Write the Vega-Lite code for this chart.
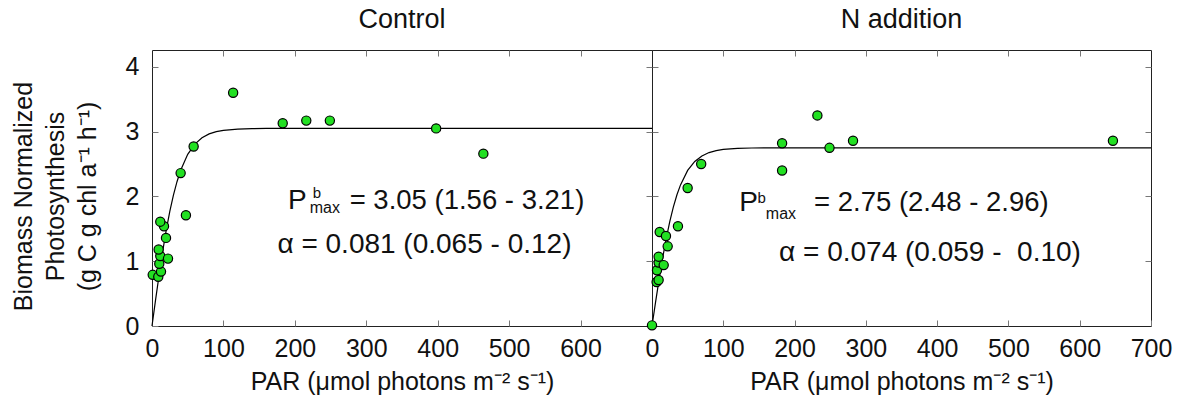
{
  "$schema": "https://vega.github.io/schema/vega-lite/v6.json",
  "autosize": {"type": "pad"},
  "padding": {"left": 10, "top": 5, "right": 0, "bottom": 0},
  "bounds": "flush",
  "spacing": 0,
  "config": {
    "font": "Liberation Sans",
    "view": {"stroke": "#222", "strokeWidth": 1},
    "axis": {"domain": false, "grid": false, "tickSize": -6, "tickColor": "#777", "labelFlush": false, "labelFont": "Liberation Sans", "labelFontSize": 25, "labelColor": "#111", "titleFont": "Liberation Sans", "titleFontSize": 25, "titleFontWeight": "normal", "titleColor": "#111"},
    "title": {"font": "Liberation Sans", "fontSize": 27, "fontWeight": "normal", "color": "#111"},
    "text": {"font": "Liberation Sans", "color": "#111"}
  },
  "datasets": {
    "points": [
      {"panel": "Control", "par": 1, "p": 0.79},
      {"panel": "Control", "par": 8.8, "p": 0.76},
      {"panel": "Control", "par": 12.6, "p": 0.84},
      {"panel": "Control", "par": 10.2, "p": 0.96},
      {"panel": "Control", "par": 11.6, "p": 1.08},
      {"panel": "Control", "par": 9.3, "p": 1.18},
      {"panel": "Control", "par": 22.4, "p": 1.04},
      {"panel": "Control", "par": 19.6, "p": 1.36},
      {"panel": "Control", "par": 16.8, "p": 1.54},
      {"panel": "Control", "par": 11.6, "p": 1.61},
      {"panel": "Control", "par": 47.5, "p": 1.71},
      {"panel": "Control", "par": 40.1, "p": 2.36},
      {"panel": "Control", "par": 58.3, "p": 2.77},
      {"panel": "Control", "par": 113.6, "p": 3.6},
      {"panel": "Control", "par": 183, "p": 3.13},
      {"panel": "Control", "par": 216, "p": 3.17},
      {"panel": "Control", "par": 249, "p": 3.17},
      {"panel": "Control", "par": 397.8, "p": 3.05},
      {"panel": "Control", "par": 463.9, "p": 2.66},
      {"panel": "N addition", "par": 0, "p": 0.01},
      {"panel": "N addition", "par": 6.5, "p": 0.68},
      {"panel": "N addition", "par": 9.3, "p": 0.71},
      {"panel": "N addition", "par": 7, "p": 0.86},
      {"panel": "N addition", "par": 9.3, "p": 0.98},
      {"panel": "N addition", "par": 9.3, "p": 1.07},
      {"panel": "N addition", "par": 16.4, "p": 0.94},
      {"panel": "N addition", "par": 10.8, "p": 1.45},
      {"panel": "N addition", "par": 19.6, "p": 1.39},
      {"panel": "N addition", "par": 22, "p": 1.23},
      {"panel": "N addition", "par": 36.4, "p": 1.54},
      {"panel": "N addition", "par": 50, "p": 2.13},
      {"panel": "N addition", "par": 69, "p": 2.5},
      {"panel": "N addition", "par": 182.5, "p": 2.82},
      {"panel": "N addition", "par": 182.5, "p": 2.4},
      {"panel": "N addition", "par": 232, "p": 3.25},
      {"panel": "N addition", "par": 249, "p": 2.75},
      {"panel": "N addition", "par": 282, "p": 2.86},
      {"panel": "N addition", "par": 646.6, "p": 2.86}
    ],
    "curves": [
      {"panel": "Control", "par": 0, "p": 0},
      {"panel": "Control", "par": 5, "p": 0.403},
      {"panel": "Control", "par": 10, "p": 0.791},
      {"panel": "Control", "par": 15, "p": 1.155},
      {"panel": "Control", "par": 20, "p": 1.483},
      {"panel": "Control", "par": 25, "p": 1.772},
      {"panel": "Control", "par": 30, "p": 2.02},
      {"panel": "Control", "par": 35, "p": 2.227},
      {"panel": "Control", "par": 40, "p": 2.399},
      {"panel": "Control", "par": 50, "p": 2.65},
      {"panel": "Control", "par": 60, "p": 2.808},
      {"panel": "Control", "par": 70, "p": 2.906},
      {"panel": "Control", "par": 80, "p": 2.965},
      {"panel": "Control", "par": 90, "p": 2.999},
      {"panel": "Control", "par": 100, "p": 3.02},
      {"panel": "Control", "par": 120, "p": 3.04},
      {"panel": "Control", "par": 140, "p": 3.046},
      {"panel": "Control", "par": 160, "p": 3.049},
      {"panel": "Control", "par": 200, "p": 3.05},
      {"panel": "Control", "par": 700, "p": 3.05},
      {"panel": "N addition", "par": 0, "p": 0},
      {"panel": "N addition", "par": 5, "p": 0.368},
      {"panel": "N addition", "par": 10, "p": 0.723},
      {"panel": "N addition", "par": 15, "p": 1.054},
      {"panel": "N addition", "par": 20, "p": 1.352},
      {"panel": "N addition", "par": 25, "p": 1.614},
      {"panel": "N addition", "par": 30, "p": 1.838},
      {"panel": "N addition", "par": 35, "p": 2.025},
      {"panel": "N addition", "par": 40, "p": 2.178},
      {"panel": "N addition", "par": 50, "p": 2.401},
      {"panel": "N addition", "par": 60, "p": 2.54},
      {"panel": "N addition", "par": 70, "p": 2.625},
      {"panel": "N addition", "par": 80, "p": 2.677},
      {"panel": "N addition", "par": 90, "p": 2.707},
      {"panel": "N addition", "par": 100, "p": 2.725},
      {"panel": "N addition", "par": 120, "p": 2.741},
      {"panel": "N addition", "par": 140, "p": 2.747},
      {"panel": "N addition", "par": 160, "p": 2.749},
      {"panel": "N addition", "par": 200, "p": 2.75},
      {"panel": "N addition", "par": 700, "p": 2.75}
    ],
    "notes": [
      {"panel": "Control", "part": "P", "label": "P"},
      {"panel": "Control", "part": "b", "label": "b"},
      {"panel": "Control", "part": "max", "label": "max"},
      {"panel": "Control", "part": "eq", "label": "= 3.05 (1.56 - 3.21)"},
      {"panel": "Control", "part": "alpha", "label": "α = 0.081 (0.065 - 0.12)"},
      {"panel": "N addition", "part": "P", "label": "P"},
      {"panel": "N addition", "part": "b", "label": "b"},
      {"panel": "N addition", "part": "max", "label": "max"},
      {"panel": "N addition", "part": "eq", "label": "= 2.75 (2.48 - 2.96)"},
      {"panel": "N addition", "part": "alpha", "label": "α = 0.074 (0.059 - \u00a00.10)"}
    ]
  },
  "hconcat": [
    {
      "width": 500,
      "height": 276,
      "title": {"text": "Control", "offset": 16},
      "resolve": {"axis": {"x": "independent", "y": "independent"}},
      "layer": [
        {
          "data": {"name": "curves"},
          "transform": [{"filter": "datum.panel == 'Control'"}],
          "mark": {"type": "line", "color": "#000", "strokeWidth": 1.2},
          "encoding": {
            "x": {"field": "par", "type": "quantitative", "scale": {"domain": [0, 700], "nice": false},
              "axis": {"orient": "bottom", "values": [0, 100, 200, 300, 400, 500, 600], "labelPadding": 16, "title": "PAR (μmol photons m⁻² s⁻¹)", "titlePadding": 8}},
            "y": {"field": "p", "type": "quantitative", "scale": {"domain": [0, 4.26], "nice": false},
              "axis": {"orient": "left", "values": [0, 1, 2, 3, 4], "labelPadding": 19, "title": ["Biomass Normalized", "Photosynthesis", "(g C g chl a⁻¹ h⁻¹)"], "titlePadding": 25, "titleLineHeight": 32, "titleY": 146}}
          }
        },
        {
          "data": {"name": "points"},
          "transform": [{"filter": "datum.panel == 'Control'"}],
          "mark": {"type": "circle", "fill": "#22e022", "stroke": "#000", "strokeWidth": 1.2, "size": 85, "opacity": 1},
          "encoding": {
            "x": {"field": "par", "type": "quantitative", "axis": null},
            "y": {"field": "p", "type": "quantitative", "axis": null}
          }
        },
        {
          "data": {"name": "points"},
          "transform": [{"filter": "datum.panel == 'Control'"}],
          "mark": {"type": "point", "opacity": 0},
          "encoding": {
            "x": {"field": "par", "type": "quantitative", "axis": {"orient": "top", "labels": false, "title": null, "values": [100, 200, 300, 400, 500, 600]}},
            "y": {"field": "p", "type": "quantitative", "axis": {"orient": "right", "labels": false, "title": null, "values": [1, 2, 3, 4]}}
          }
        },
        {
          "data": {"name": "notes"},
          "transform": [{"filter": "datum.panel == 'Control' && datum.part == 'P'"}],
          "mark": {"type": "text", "align": "left", "baseline": "alphabetic", "fontSize": 28},
          "encoding": {"x": {"datum": 190.4, "type": "quantitative", "axis": null}, "y": {"datum": 1.812, "type": "quantitative", "axis": null}, "text": {"field": "label"}}
        },
        {
          "data": {"name": "notes"},
          "transform": [{"filter": "datum.panel == 'Control' && datum.part == 'b'"}],
          "mark": {"type": "text", "align": "left", "baseline": "alphabetic", "fontSize": 15},
          "encoding": {"x": {"datum": 225, "type": "quantitative", "axis": null}, "y": {"datum": 1.981, "type": "quantitative", "axis": null}, "text": {"field": "label"}}
        },
        {
          "data": {"name": "notes"},
          "transform": [{"filter": "datum.panel == 'Control' && datum.part == 'max'"}],
          "mark": {"type": "text", "align": "left", "baseline": "alphabetic", "fontSize": 16},
          "encoding": {"x": {"datum": 220.8, "type": "quantitative", "axis": null}, "y": {"datum": 1.75, "type": "quantitative", "axis": null}, "text": {"field": "label"}}
        },
        {
          "data": {"name": "notes"},
          "transform": [{"filter": "datum.panel == 'Control' && datum.part == 'eq'"}],
          "mark": {"type": "text", "align": "left", "baseline": "alphabetic", "fontSize": 27.5},
          "encoding": {"x": {"datum": 276.7, "type": "quantitative", "axis": null}, "y": {"datum": 1.812, "type": "quantitative", "axis": null}, "text": {"field": "label"}}
        },
        {
          "data": {"name": "notes"},
          "transform": [{"filter": "datum.panel == 'Control' && datum.part == 'alpha'"}],
          "mark": {"type": "text", "align": "left", "baseline": "alphabetic", "fontSize": 28},
          "encoding": {"x": {"datum": 175.6, "type": "quantitative", "axis": null}, "y": {"datum": 1.133, "type": "quantitative", "axis": null}, "text": {"field": "label"}}
        }
      ]
    },
    {
      "width": 499,
      "height": 276,
      "title": {"text": "N addition", "offset": 16},
      "resolve": {"axis": {"x": "independent", "y": "independent"}},
      "layer": [
        {
          "data": {"name": "curves"},
          "transform": [{"filter": "datum.panel == 'N addition'"}],
          "mark": {"type": "line", "color": "#000", "strokeWidth": 1.2},
          "encoding": {
            "x": {"field": "par", "type": "quantitative", "scale": {"domain": [0, 700], "nice": false},
              "axis": {"orient": "bottom", "values": [0, 100, 200, 300, 400, 500, 600, 700], "labelPadding": 16, "title": "PAR (μmol photons m⁻² s⁻¹)", "titlePadding": 8}},
            "y": {"field": "p", "type": "quantitative", "scale": {"domain": [0, 4.26], "nice": false},
              "axis": {"orient": "left", "values": [1, 2, 3, 4], "labels": false, "title": null}}
          }
        },
        {
          "data": {"name": "points"},
          "transform": [{"filter": "datum.panel == 'N addition'"}],
          "mark": {"type": "circle", "fill": "#22e022", "stroke": "#000", "strokeWidth": 1.2, "size": 85, "opacity": 1},
          "encoding": {
            "x": {"field": "par", "type": "quantitative", "axis": null},
            "y": {"field": "p", "type": "quantitative", "axis": null}
          }
        },
        {
          "data": {"name": "points"},
          "transform": [{"filter": "datum.panel == 'N addition'"}],
          "mark": {"type": "point", "opacity": 0},
          "encoding": {
            "x": {"field": "par", "type": "quantitative", "axis": {"orient": "top", "labels": false, "title": null, "values": [100, 200, 300, 400, 500, 600]}},
            "y": {"field": "p", "type": "quantitative", "axis": {"orient": "right", "labels": false, "title": null, "values": [1, 2, 3, 4]}}
          }
        },
        {
          "data": {"name": "notes"},
          "transform": [{"filter": "datum.panel == 'N addition' && datum.part == 'P'"}],
          "mark": {"type": "text", "align": "left", "baseline": "alphabetic", "fontSize": 28},
          "encoding": {"x": {"datum": 122.3, "type": "quantitative", "axis": null}, "y": {"datum": 1.775, "type": "quantitative", "axis": null}, "text": {"field": "label"}}
        },
        {
          "data": {"name": "notes"},
          "transform": [{"filter": "datum.panel == 'N addition' && datum.part == 'b'"}],
          "mark": {"type": "text", "align": "left", "baseline": "alphabetic", "fontSize": 15},
          "encoding": {"x": {"datum": 148, "type": "quantitative", "axis": null}, "y": {"datum": 1.904, "type": "quantitative", "axis": null}, "text": {"field": "label"}}
        },
        {
          "data": {"name": "notes"},
          "transform": [{"filter": "datum.panel == 'N addition' && datum.part == 'max'"}],
          "mark": {"type": "text", "align": "left", "baseline": "alphabetic", "fontSize": 16},
          "encoding": {"x": {"datum": 159.7, "type": "quantitative", "axis": null}, "y": {"datum": 1.647, "type": "quantitative", "axis": null}, "text": {"field": "label"}}
        },
        {
          "data": {"name": "notes"},
          "transform": [{"filter": "datum.panel == 'N addition' && datum.part == 'eq'"}],
          "mark": {"type": "text", "align": "left", "baseline": "alphabetic", "fontSize": 27.5},
          "encoding": {"x": {"datum": 227.3, "type": "quantitative", "axis": null}, "y": {"datum": 1.775, "type": "quantitative", "axis": null}, "text": {"field": "label"}}
        },
        {
          "data": {"name": "notes"},
          "transform": [{"filter": "datum.panel == 'N addition' && datum.part == 'alpha'"}],
          "mark": {"type": "text", "align": "left", "baseline": "alphabetic", "fontSize": 28},
          "encoding": {"x": {"datum": 178.3, "type": "quantitative", "axis": null}, "y": {"datum": 1.003, "type": "quantitative", "axis": null}, "text": {"field": "label"}}
        }
      ]
    }
  ]
}
